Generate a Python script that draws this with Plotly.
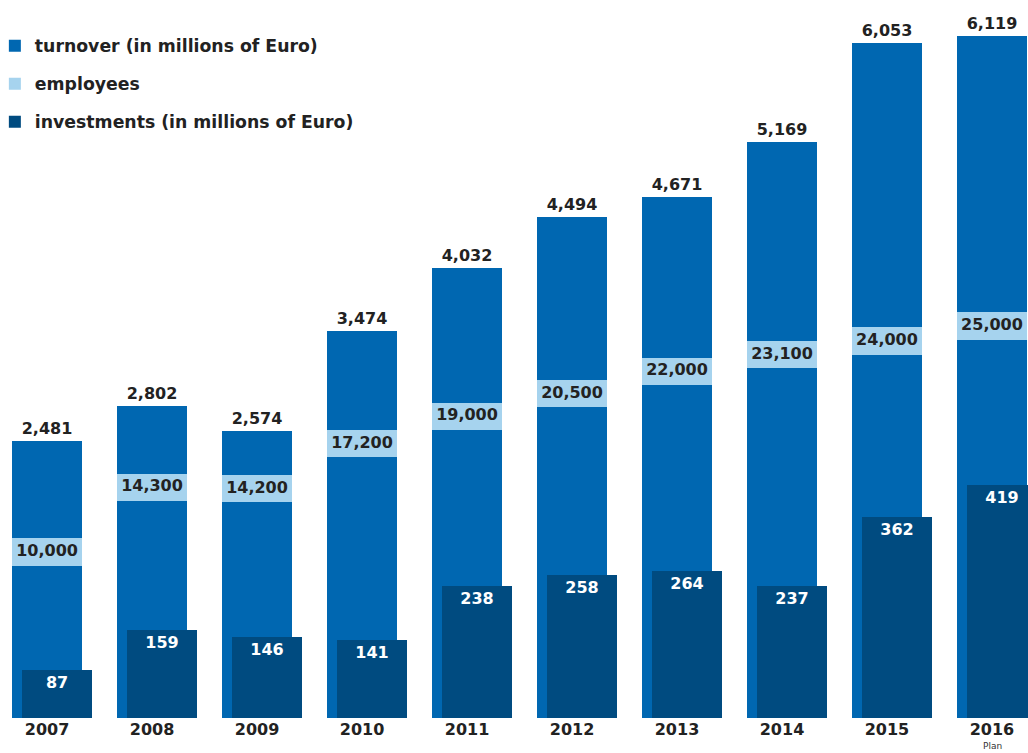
import plotly.graph_objects as go

years = ["2007", "2008", "2009", "2010", "2011", "2012", "2013", "2014", "2015", "2016"]
turnover = [2481, 2802, 2574, 3474, 4032, 4494, 4671, 5169, 6053, 6119]
employees = [10000, 14300, 14200, 17200, 19000, 20500, 22000, 23100, 24000, 25000]
investments = [87, 159, 146, 141, 238, 258, 264, 237, 362, 419]

C_TURN = "#0067B1"
C_EMP = "#A6D3EE"
C_INV = "#004B80"
FONT = "DejaVu Sans, Liberation Sans, Arial, sans-serif"

BAND = 1800  # band thickness in employee units
BW = 0.667

fig = go.Figure()

fig.add_trace(go.Bar(
    x=years, y=turnover, name="turnover (in millions of Euro)",
    marker=dict(color=C_TURN, line=dict(width=0)),
    width=BW, offset=-BW / 2,
    texttemplate="%{y:,}", textposition="outside", cliponaxis=False,
    textfont=dict(family=FONT, size=16, color="#222222", weight="bold"),
    legendgroup="a", yaxis="y",
))

fig.add_trace(go.Bar(
    x=years, y=[BAND] * len(years), base=[e - BAND / 2 for e in employees],
    name="employees",
    marker=dict(color=C_EMP, line=dict(width=0)),
    width=BW, offset=-BW / 2, legendgroup="b", yaxis="y2",
))
fig.add_trace(go.Scatter(
    x=years, y=employees, mode="text", texttemplate="%{y:,}",
    textfont=dict(family=FONT, size=16, color="#222222", weight="bold"),
    showlegend=False, yaxis="y2", hoverinfo="skip",
))

fig.add_trace(go.Bar(
    x=years, y=investments, name="investments (in millions of Euro)",
    marker=dict(color=C_INV, line=dict(width=0)),
    width=BW, offset=-0.238,
    texttemplate="%{y}", textposition="inside", insidetextanchor="end",
    insidetextfont=dict(family=FONT, size=16, color="white", weight="bold"),
    legendgroup="c", yaxis="y3",
))

fig.update_layout(
    width=1028, height=753,
    margin=dict(l=0, r=0, t=0, b=35, autoexpand=False),
    paper_bgcolor="white", plot_bgcolor="white",
    barmode="overlay", bargap=0,
    showlegend=True,
    legend=dict(
        x=-0.005, y=0.961, xanchor="left", yanchor="top",
        font=dict(family=FONT, size=17.3, color="#222222", weight="bold"),
        traceorder="grouped", tracegroupgap=12.5,
        bgcolor="rgba(0,0,0,0)",
    ),
    xaxis=dict(
        type="category", range=[-0.448, 9.343],
        showgrid=False, zeroline=False, showline=False, ticks="",
        tickfont=dict(family=FONT, size=16, color="#222222", weight="bold"),
    ),
    yaxis=dict(range=[0, 6439], visible=False),
    yaxis2=dict(range=[-1015, 46629], overlaying="y", visible=False),
    yaxis3=dict(range=[0, 1291], overlaying="y", visible=False),
    annotations=[dict(
        x=0.965, y=0, xref="paper", yref="paper", text="Plan",
        showarrow=False, yanchor="middle", xanchor="center", yshift=-28,
        font=dict(family=FONT, size=9, color="#333333"),
    )],
)

fig.write_html("out.html")
